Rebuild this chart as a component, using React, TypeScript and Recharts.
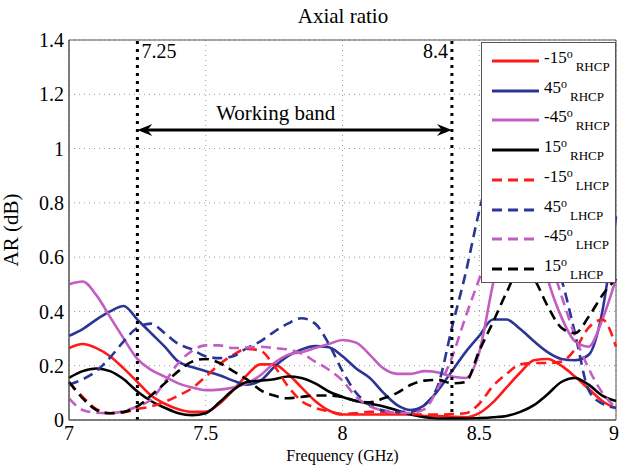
import React from "react";
import {
  LineChart,
  Line,
  XAxis,
  YAxis,
  CartesianGrid,
  ReferenceLine,
  ReferenceArea,
  Legend,
} from "recharts";

const FONT = "Liberation Serif, Times New Roman, serif";

// frequency samples (GHz)
const freq = [
  7.0, 7.05, 7.1, 7.15, 7.2, 7.25, 7.3, 7.35, 7.4, 7.45, 7.5, 7.55, 7.6, 7.65,
  7.7, 7.75, 7.8, 7.85, 7.9, 7.95, 8.0, 8.05, 8.1, 8.15, 8.2, 8.25, 8.3, 8.35,
  8.4, 8.45, 8.5, 8.55, 8.6, 8.65, 8.7, 8.75, 8.8, 8.85, 8.9, 8.95, 9.0,
];

// AR (dB) per series
const rhcpM15 = [
  0.265, 0.28, 0.265, 0.235, 0.19, 0.14, 0.09, 0.06, 0.04, 0.03, 0.03, 0.06,
  0.11, 0.165, 0.205, 0.205, 0.17, 0.12, 0.07, 0.035, 0.02, 0.02, 0.02, 0.02,
  0.02, 0.02, 0.015, 0.015, 0.012, 0.01, 0.025, 0.065, 0.12, 0.175, 0.22,
  0.225, 0.2, 0.16, 0.115, 0.07, 0.043,
];
const rhcp45 = [
  0.31, 0.335, 0.37, 0.4, 0.42, 0.37, 0.32, 0.27, 0.215, 0.195, 0.18, 0.165,
  0.145, 0.13, 0.145, 0.195, 0.235, 0.26, 0.272, 0.268, 0.235, 0.19, 0.155,
  0.1, 0.055, 0.037, 0.055, 0.11, 0.18, 0.25, 0.31, 0.37, 0.37, 0.335, 0.29,
  0.25, 0.225, 0.22, 0.24, 0.4, 0.75,
];
const rhcpM45 = [
  0.5, 0.51, 0.46, 0.38, 0.3, 0.225, 0.185, 0.16, 0.135, 0.12, 0.11, 0.112,
  0.12, 0.135, 0.165, 0.21, 0.24, 0.25, 0.265, 0.28, 0.295, 0.285, 0.24, 0.19,
  0.17, 0.17, 0.18, 0.175, 0.16, 0.155, 0.25, 0.5, 0.7, 0.78, 0.72, 0.52,
  0.38, 0.29, 0.27, 0.37, 0.52,
];
const rhcp15 = [
  0.155, 0.18, 0.19, 0.18, 0.15, 0.105, 0.07, 0.045, 0.025, 0.018, 0.025,
  0.065, 0.11, 0.14, 0.145, 0.15, 0.16, 0.155, 0.135, 0.105, 0.085, 0.07, 0.06,
  0.05, 0.035, 0.02, 0.01, 0.005, 0.005, 0.005, 0.007, 0.01, 0.015, 0.03,
  0.055, 0.095, 0.14, 0.155, 0.13, 0.09, 0.07,
];
const lhcpM15 = [
  0.14, 0.085, 0.04, 0.025, 0.028, 0.04, 0.05, 0.067, 0.09, 0.117, 0.16, 0.205,
  0.24, 0.262, 0.255, 0.2, 0.125, 0.07, 0.045, 0.032, 0.022, 0.025, 0.03, 0.03,
  0.025, 0.022, 0.02, 0.02, 0.022, 0.025, 0.06, 0.125, 0.17, 0.205, 0.21, 0.21,
  0.215, 0.26, 0.34, 0.37, 0.27,
];
const lhcp45 = [
  0.13, 0.15, 0.18, 0.23, 0.29, 0.34, 0.355, 0.32, 0.28, 0.26, 0.235, 0.228,
  0.235, 0.265, 0.29, 0.325, 0.355, 0.375, 0.355, 0.28, 0.18, 0.1, 0.055,
  0.035, 0.03, 0.03, 0.055, 0.13, 0.34, 0.54, 0.77, 0.95, 1.0, 0.95, 0.8, 0.65,
  0.52, 0.32, 0.11, 0.06, 0.045,
];
const lhcpM45 = [
  0.08, 0.037, 0.027, 0.025, 0.033, 0.05, 0.075, 0.14, 0.21, 0.255, 0.275,
  0.275, 0.265, 0.267, 0.27, 0.265, 0.26, 0.245, 0.215, 0.185, 0.145, 0.085,
  0.05, 0.035, 0.026, 0.026, 0.04, 0.12, 0.23, 0.38, 0.52, 0.66, 0.75, 0.78,
  0.75, 0.62, 0.46, 0.31, 0.19, 0.1, 0.045,
];
const lhcp15 = [
  0.14, 0.08, 0.037, 0.025, 0.03, 0.05, 0.09, 0.135, 0.18, 0.215, 0.225, 0.21,
  0.18, 0.15, 0.11, 0.09, 0.08, 0.085, 0.09, 0.09, 0.085, 0.07, 0.065, 0.08,
  0.1, 0.13, 0.145, 0.148, 0.135, 0.14, 0.255, 0.36, 0.47, 0.56, 0.52, 0.42,
  0.34, 0.32, 0.38, 0.46, 0.52,
];

const xTicks = [7, 7.5, 8, 8.5, 9];
const yTicks = [0, 0.2, 0.4, 0.6, 0.8, 1, 1.2, 1.4];
const bandStart = 7.25;
const bandEnd = 8.4;

const RED = "#ff1a1a";
const BLUE = "#2b3595";
const PINK = "#c25ec2";
const BLACK = "#000000";

const series = [
  { key: "rhcpM15", angle: "-15", pol: "RHCP", color: RED, dashed: false },
  { key: "rhcp45", angle: "45", pol: "RHCP", color: BLUE, dashed: false },
  { key: "rhcpM45", angle: "-45", pol: "RHCP", color: PINK, dashed: false },
  { key: "rhcp15", angle: "15", pol: "RHCP", color: BLACK, dashed: false },
  { key: "lhcpM15", angle: "-15", pol: "LHCP", color: RED, dashed: true },
  { key: "lhcp45", angle: "45", pol: "LHCP", color: BLUE, dashed: true },
  { key: "lhcpM45", angle: "-45", pol: "LHCP", color: PINK, dashed: true },
  { key: "lhcp15", angle: "15", pol: "LHCP", color: BLACK, dashed: true },
];

const data = freq.map((f, i) => ({
  f,
  rhcpM15: rhcpM15[i],
  rhcp45: rhcp45[i],
  rhcpM45: rhcpM45[i],
  rhcp15: rhcp15[i],
  lhcpM15: lhcpM15[i],
  lhcp45: lhcp45[i],
  lhcpM45: lhcpM45[i],
  lhcp15: lhcp15[i],
}));

const BandArrow = (props: any) => {
  const { x1, y1, x2, y2 } = props;
  const h = 15;
  const w = 6;
  return (
    <g>
      <line x1={x1 + 6} y1={y1} x2={x2 - 6} y2={y2} stroke="#000" strokeWidth={3} />
      <path
        d={`M${x1},${y1} L${x1 + h},${y1 - w} L${x1 + h - 5},${y1} L${x1 + h},${y1 + w} Z`}
        fill="#000"
      />
      <path
        d={`M${x2},${y2} L${x2 - h},${y2 - w} L${x2 - h + 5},${y2} L${x2 - h},${y2 + w} Z`}
        fill="#000"
      />
      <text
        x={x1 + (x2 - x1) * 0.44}
        y={y1 - 10}
        textAnchor="middle"
        style={{ fontFamily: FONT, fontSize: 21 }}
        fill="#000"
      >
        Working band
      </text>
    </g>
  );
};

const renderLegend = () => (
  <div
    style={{
      position: "relative",
      width: 135,
      height: 241,
      border: "1px solid #555",
      background: "#fff",
      boxSizing: "border-box",
      fontFamily: FONT,
      color: "#000",
    }}
  >
    {series.map((s, i) => {
      const cy = 18 + i * 29.7;
      return (
        <React.Fragment key={s.key}>
          <svg
            width={50}
            height={10}
            style={{ position: "absolute", left: 9, top: cy - 5 }}
          >
            <line
              x1={1}
              y1={5}
              x2={48}
              y2={5}
              stroke={s.color}
              strokeWidth={3}
              strokeDasharray={s.dashed ? "10 6" : undefined}
            />
          </svg>
          <span
            style={{
              position: "absolute",
              left: 62,
              top: cy - 11,
              fontSize: 17,
              lineHeight: "16px",
              whiteSpace: "nowrap",
            }}
          >
            {s.angle}
            <span style={{ fontSize: 12, position: "relative", top: -5 }}>o</span>
            <span style={{ fontSize: 13, position: "relative", top: 8, marginLeft: 3 }}>
              {s.pol}
            </span>
          </span>
        </React.Fragment>
      );
    })}
  </div>
);

const tickStyle = { fill: "#000", fontSize: 20, style: { fontFamily: FONT } };

export default function App() {
  return (
    <div style={{ position: "absolute", left: 0, top: 0, width: 619, height: 467, background: "#fff" }}>
      <div
        style={{
          position: "absolute",
          left: 0,
          top: 4,
          width: 686,
          textAlign: "center",
          fontFamily: FONT,
          fontSize: 21,
          zIndex: 2,
        }}
      >
        Axial ratio
      </div>
      <LineChart
        width={619}
        height={467}
        data={data}
        margin={{ top: 40, right: 3, left: 0, bottom: 0 }}
        style={{ fontFamily: FONT }}
      >
        <CartesianGrid stroke="#9a9a9a" strokeDasharray="1 4" />
        <XAxis
          dataKey="f"
          type="number"
          domain={[7, 9]}
          ticks={xTicks}
          height={47}
          tickLine={false}
          tickSize={3}
          tickMargin={3}
          axisLine={{ stroke: "#555" }}
          tick={tickStyle}
          label={{
            value: "Frequency (GHz)",
            position: "insideBottom",
            offset: 6,
            fill: "#000",
            fontSize: 16,
            style: { fontFamily: FONT },
          }}
        />
        <YAxis
          type="number"
          domain={[0, 1.4]}
          ticks={yTicks}
          width={69}
          tickLine={false}
          tickSize={3}
          tickMargin={2}
          axisLine={{ stroke: "#555" }}
          tick={tickStyle}
          label={{
            value: "AR (dB)",
            angle: -90,
            position: "insideLeft",
            offset: 11,
            fill: "#000",
            fontSize: 21,
            style: { textAnchor: "middle", fontFamily: FONT },
          }}
        />
        <ReferenceArea x1={7} x2={9} y1={0} y2={1.4} fill="none" stroke="#555" strokeWidth={1} />
        {series.map((s) => (
          <Line
            key={s.key}
            dataKey={s.key}
            type="monotone"
            stroke={s.color}
            strokeWidth={2.6}
            strokeDasharray={s.dashed ? "10 6" : undefined}
            dot={false}
            activeDot={false}
            isAnimationActive={false}
          />
        ))}
        <ReferenceLine
          x={bandStart}
          stroke="#000"
          strokeWidth={3}
          strokeDasharray="3 5"
          label={{ value: "7.25", position: "insideTopLeft", offset: 4, fill: "#000", fontSize: 20, style: { fontFamily: FONT } }}
        />
        <ReferenceLine
          x={bandEnd}
          stroke="#000"
          strokeWidth={3}
          strokeDasharray="3 5"
          label={{ value: "8.4", position: "insideTopRight", offset: 4, fill: "#000", fontSize: 20, style: { fontFamily: FONT } }}
        />
        <ReferenceLine
          segment={[
            { x: bandStart, y: 1.068 },
            { x: bandEnd, y: 1.068 },
          ]}
          shape={BandArrow}
        />
        <Legend
          layout="vertical"
          align="center"
          verticalAlign="middle"
          content={renderLegend}
          wrapperStyle={{ left: 481, top: 42, width: 135, height: 241 }}
        />
      </LineChart>
    </div>
  );
}
